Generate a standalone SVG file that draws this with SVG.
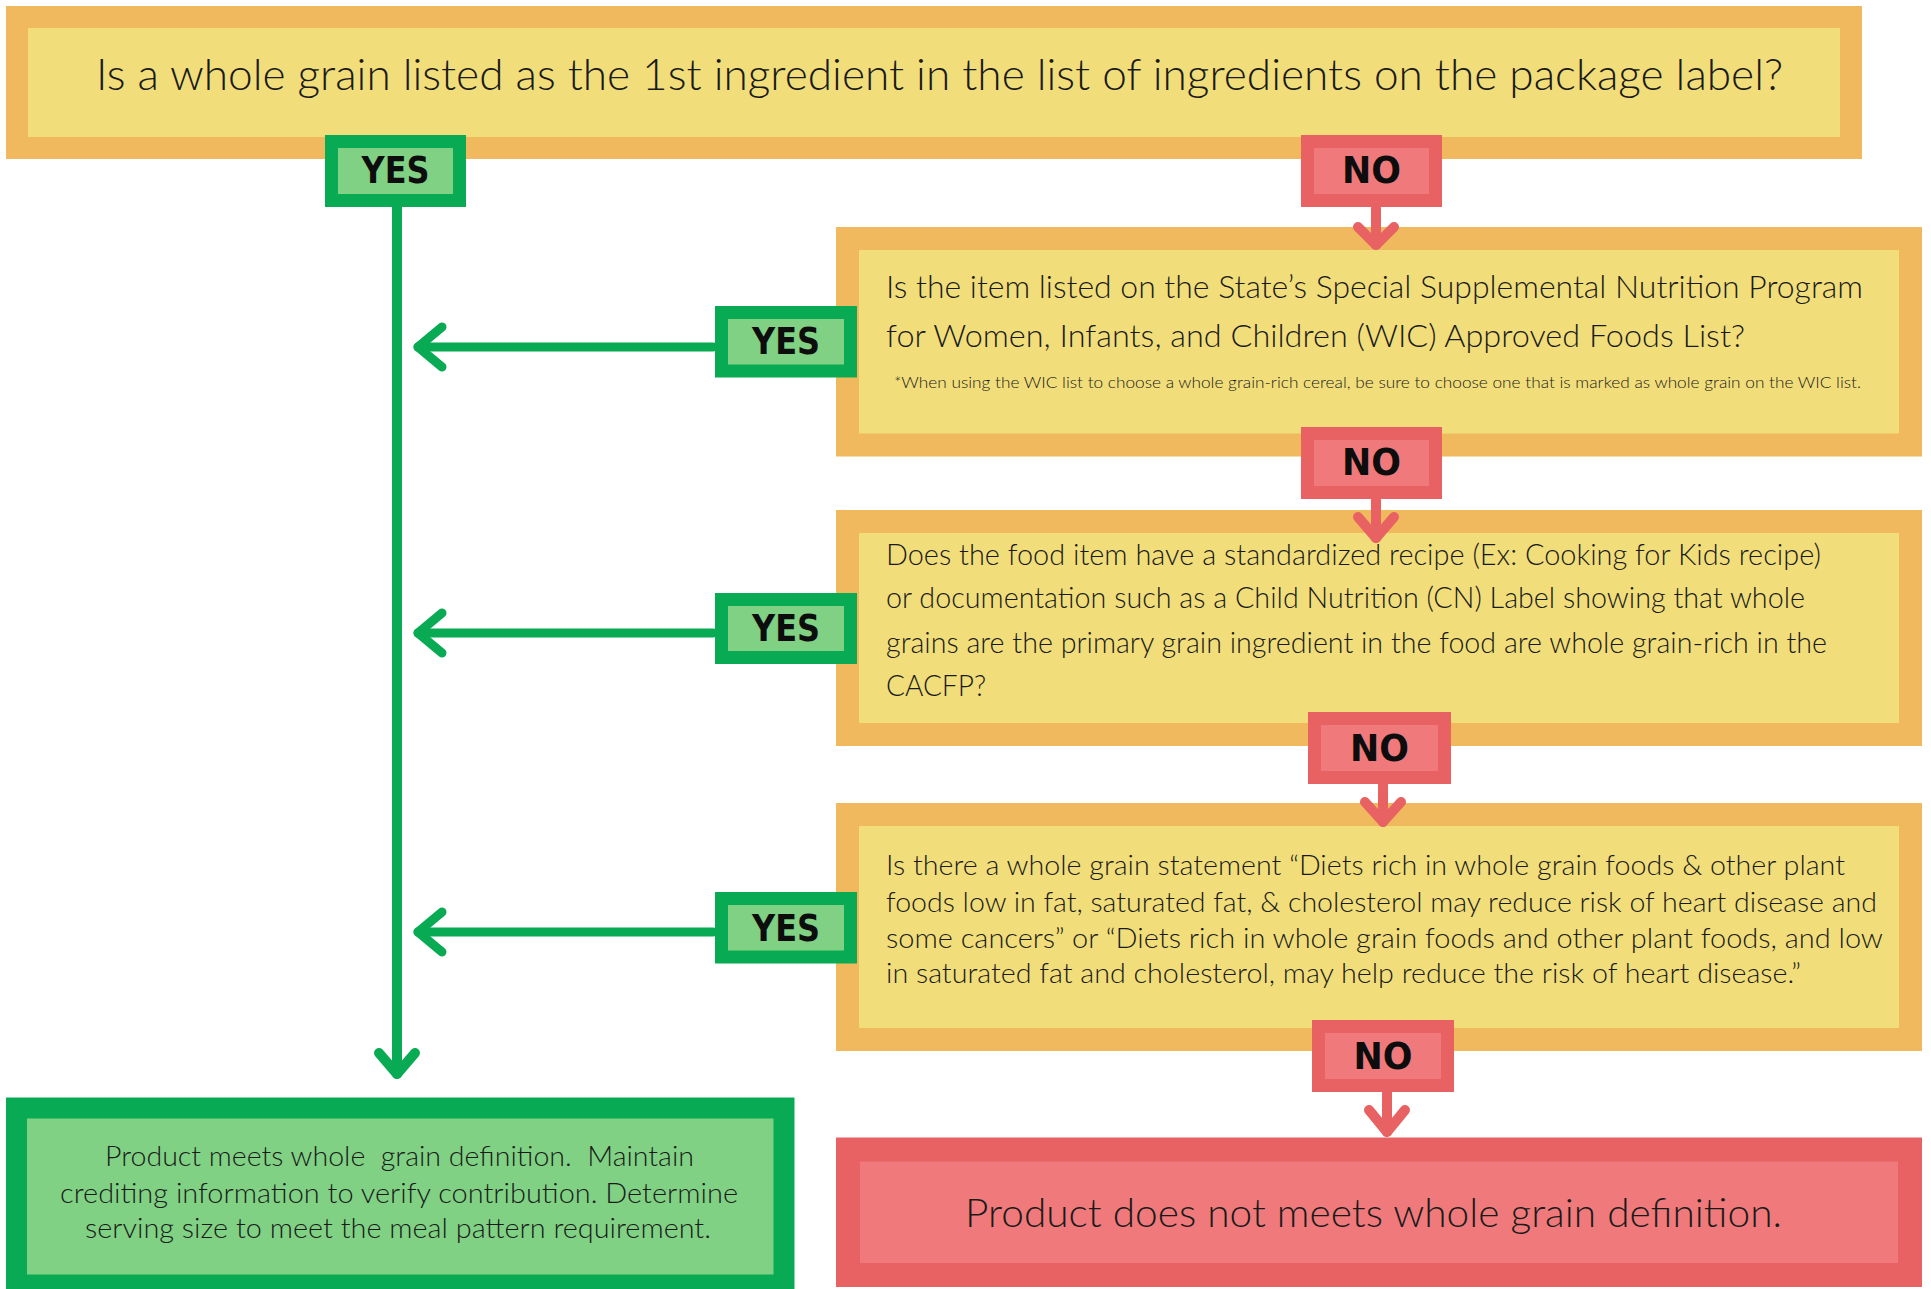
<svg xmlns="http://www.w3.org/2000/svg" width="1931" height="1289" viewBox="0 0 1931 1289">
<style>
.q{fill:#F1DE7B;stroke:#F0B95E}
.yb{fill:#80D184;stroke:#08AB53;stroke-width:13}
.nb{fill:#F07A7B;stroke:#E86163;stroke-width:13}
.lbl{font-family:"DejaVu Sans","Liberation Sans",sans-serif;font-weight:bold;font-size:38px;fill:#0d0d0d;text-anchor:middle}
.t{font-family:Lato,"Liberation Sans",sans-serif;font-weight:300;fill:#1a1a1a;white-space:pre}
.g{fill:none;stroke:#08AB53;stroke-linecap:round;stroke-linejoin:round}
.r{fill:none;stroke:#E86163;stroke-width:10;stroke-linecap:round;stroke-linejoin:round}
</style>
<rect width="1931" height="1289" fill="#ffffff"/>
<g id="q1">
<rect class="q" x="17" y="17" width="1834" height="131" stroke-width="22"/>
<text class="t" x="96" y="90" font-size="44" textLength="1687" lengthAdjust="spacingAndGlyphs">Is a whole grain listed as the 1st ingredient in the list of ingredients on the package label?</text>
</g>
<g id="q2">
<rect class="q" x="847.5" y="238.5" width="1063" height="206.5" stroke-width="23"/>
<text class="t" x="886" y="298" font-size="31" textLength="977" lengthAdjust="spacingAndGlyphs">Is the item listed on the State’s Special Supplemental Nutrition Program</text>
<text class="t" x="886" y="347" font-size="31" textLength="859" lengthAdjust="spacingAndGlyphs">for Women, Infants, and Children (WIC) Approved Foods List?</text>
<text class="t" x="894" y="388" font-size="16" textLength="967" lengthAdjust="spacingAndGlyphs">*When using the WIC list to choose a whole grain-rich cereal, be sure to choose one that is marked as whole grain on the WIC list.</text>
</g>
<g id="q3">
<rect class="q" x="847.5" y="521.5" width="1063" height="213" stroke-width="23"/>
<text class="t" x="886" y="565" font-size="30" textLength="935" lengthAdjust="spacingAndGlyphs">Does the food item have a standardized recipe (Ex: Cooking for Kids recipe)</text>
<text class="t" x="886" y="608" font-size="30" textLength="919" lengthAdjust="spacingAndGlyphs">or documentation such as a Child Nutrition (CN) Label showing that whole</text>
<text class="t" x="886" y="653" font-size="30" textLength="941" lengthAdjust="spacingAndGlyphs">grains are the primary grain ingredient in the food are whole grain-rich in the</text>
<text class="t" x="886" y="696" font-size="30" textLength="100" lengthAdjust="spacingAndGlyphs">CACFP?</text>
</g>
<g id="q4">
<rect class="q" x="847.5" y="814.5" width="1063" height="225" stroke-width="23"/>
<text class="t" x="886" y="875" font-size="28" textLength="959" lengthAdjust="spacingAndGlyphs">Is there a whole grain statement “Diets rich in whole grain foods &amp; other plant</text>
<text class="t" x="886" y="912" font-size="28" textLength="991" lengthAdjust="spacingAndGlyphs">foods low in fat, saturated fat, &amp; cholesterol may reduce risk of heart disease and</text>
<text class="t" x="886" y="948" font-size="28" textLength="997" lengthAdjust="spacingAndGlyphs">some cancers” or “Diets rich in whole grain foods and other plant foods, and low</text>
<text class="t" x="886" y="983" font-size="28" textLength="915" lengthAdjust="spacingAndGlyphs">in saturated fat and cholesterol, may help reduce the risk of heart disease.”</text>
</g>
<g id="yes-result">
<rect x="16.5" y="1108" width="767.5" height="177" fill="#80D184" stroke="#08AB53" stroke-width="21"/>
<text class="t" x="105" y="1166" font-size="27" textLength="589" lengthAdjust="spacingAndGlyphs">Product meets whole  grain definition.  Maintain</text>
<text class="t" x="60" y="1203" font-size="27" textLength="678" lengthAdjust="spacingAndGlyphs">crediting information to verify contribution. Determine</text>
<text class="t" x="85" y="1238" font-size="27" textLength="626" lengthAdjust="spacingAndGlyphs">serving size to meet the meal pattern requirement.</text>
</g>
<g id="no-result">
<rect x="848" y="1149.5" width="1062" height="125.5" fill="#F07A7B" stroke="#E86163" stroke-width="24"/>
<text class="t" x="965" y="1227" font-size="39" textLength="817" lengthAdjust="spacingAndGlyphs">Product does not meets whole grain definition.</text>
</g>
<g id="yes1"><rect class="yb" x="331.5" y="141.5" width="128" height="59"/><text class="lbl" x="395.5" y="183" textLength="68" lengthAdjust="spacingAndGlyphs">YES</text></g>
<g id="no1"><rect class="nb" x="1307.5" y="141.5" width="128" height="59"/><text class="lbl" x="1371.5" y="183" textLength="59" lengthAdjust="spacingAndGlyphs">NO</text></g>
<g id="yes2"><rect class="yb" x="721.5" y="312.5" width="129" height="58.5"/><text class="lbl" x="786" y="354" textLength="68" lengthAdjust="spacingAndGlyphs">YES</text></g>
<g id="no2"><rect class="nb" x="1307.5" y="433.5" width="128" height="59"/><text class="lbl" x="1371.5" y="475" textLength="59" lengthAdjust="spacingAndGlyphs">NO</text></g>
<g id="yes3"><rect class="yb" x="721.5" y="599.5" width="129" height="58"/><text class="lbl" x="786" y="641" textLength="68" lengthAdjust="spacingAndGlyphs">YES</text></g>
<g id="no3"><rect class="nb" x="1314.5" y="718.5" width="130" height="59"/><text class="lbl" x="1379.5" y="761" textLength="59" lengthAdjust="spacingAndGlyphs">NO</text></g>
<g id="yes4"><rect class="yb" x="721.5" y="898.5" width="129" height="58.5"/><text class="lbl" x="786" y="941" textLength="68" lengthAdjust="spacingAndGlyphs">YES</text></g>
<g id="no4"><rect class="nb" x="1318.5" y="1026.5" width="129" height="59"/><text class="lbl" x="1383" y="1069" textLength="59" lengthAdjust="spacingAndGlyphs">NO</text></g>
<g id="connectors">
<line class="g" x1="397" y1="207" x2="397" y2="1074" stroke-width="10" stroke-linecap="butt"/>
<polyline class="g" stroke-width="10" points="379,1053 397,1074 415,1053"/>
<line class="g" stroke-width="9" x1="713" y1="347" x2="418" y2="347"/>
<polyline class="g" stroke-width="9" points="442,327 418,347 442,367"/>
<line class="g" stroke-width="9" x1="713" y1="633" x2="418" y2="633"/>
<polyline class="g" stroke-width="9" points="442,613 418,633 442,653"/>
<line class="g" stroke-width="9" x1="713" y1="932" x2="418" y2="932"/>
<polyline class="g" stroke-width="9" points="442,912 418,932 442,952"/>
<line class="r" x1="1376" y1="208" x2="1376" y2="245"/>
<polyline class="r" points="1358,227 1376,245 1394,227"/>
<line class="r" x1="1376" y1="500" x2="1376" y2="538"/>
<polyline class="r" points="1358,517 1376,538 1394,517"/>
<line class="r" x1="1383" y1="785" x2="1383" y2="822"/>
<polyline class="r" points="1365,802 1383,822 1401,802"/>
<line class="r" x1="1387" y1="1093" x2="1387" y2="1132"/>
<polyline class="r" points="1369,1110 1387,1132 1405,1110"/>
</g>
</svg>
